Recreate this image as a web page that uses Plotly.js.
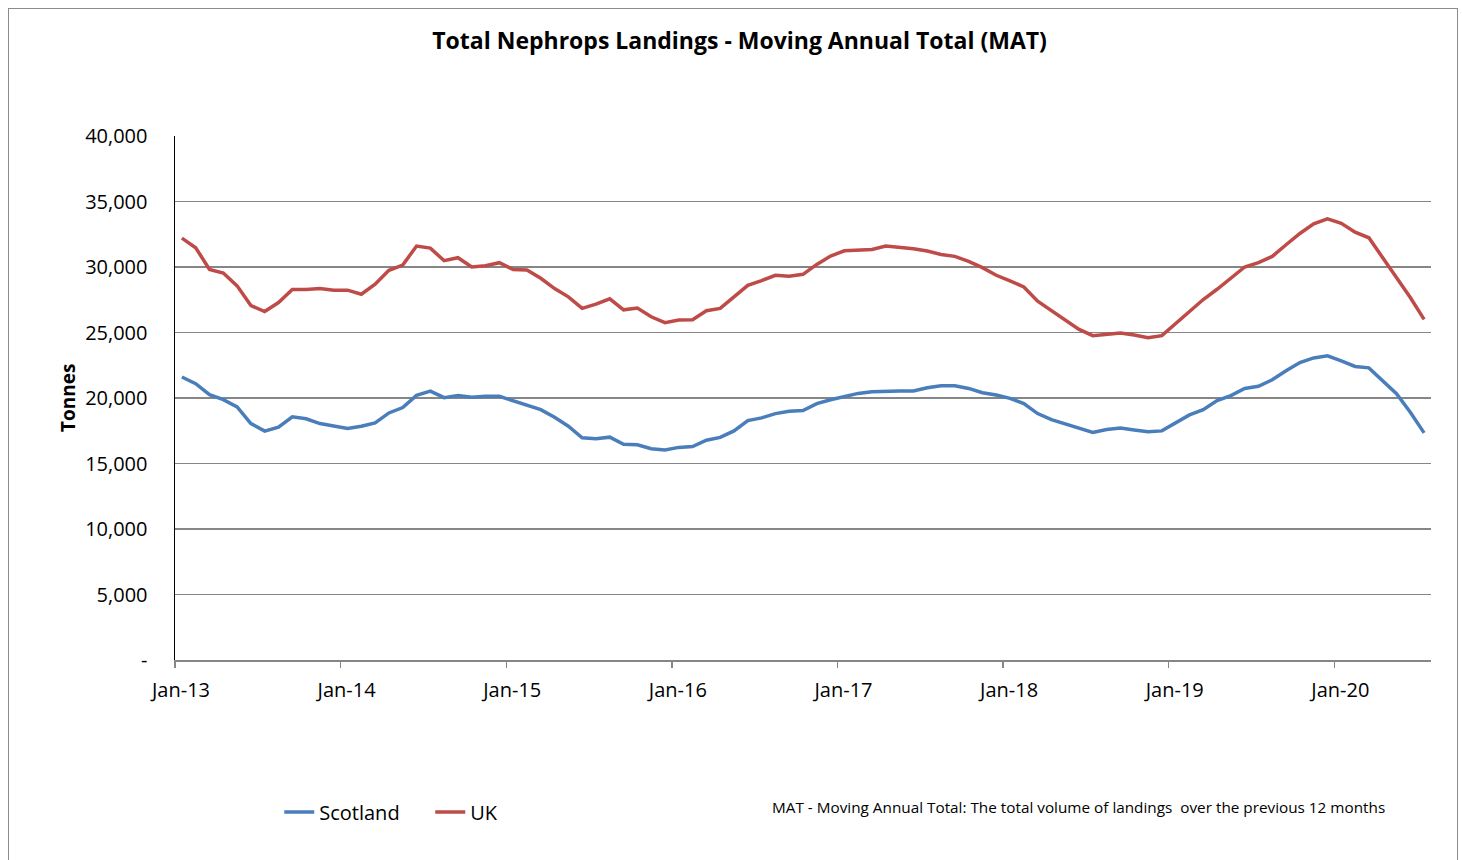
<!DOCTYPE html>
<html>
<head>
<meta charset="utf-8">
<script src="https://cdn.plot.ly/plotly-3.0.1.min.js"></script>
<style>
  html, body { margin: 0; padding: 0; background: #ffffff; }
  #wrap { position: relative; width: 1462px; height: 860px; overflow: hidden; }
  #chart { position: absolute; left: 0; top: 0; width: 1462px; height: 860px; }
  #frame { position: absolute; left: 8px; top: 8px; width: 1450px; height: 900px;
           border: 1.5px solid #8c8c8c; pointer-events: none; box-sizing: border-box; }
</style>
</head>
<body>
<div id="wrap">
  <div id="chart"></div>
  <div id="frame"></div>
</div>
<script>
// Monthly periods Jan-13 .. Jul-20 (91 months)
const monthIndex = Array.from({length: 91}, (_, i) => i);

const scotland = [
  21600, 21090, 20250, 19870, 19320, 18050, 17470, 17770, 18560, 18410, 18050, 17850,
  17670, 17850, 18100, 18860, 19270, 20200, 20530, 20030, 20180, 20050, 20140, 20130,
  19800, 19440, 19110, 18530, 17850, 16960, 16890, 17010, 16460, 16430, 16130, 16030,
  16230, 16300, 16780, 16990, 17490, 18280, 18480, 18810, 18990, 19040, 19570, 19870,
  20130, 20350, 20480, 20530, 20530, 20530, 20780, 20940, 20940, 20730, 20400, 20230,
  19970, 19570, 18810, 18350, 18000, 17650, 17370, 17600, 17700, 17550, 17420, 17490,
  18100, 18710, 19110, 19800, 20180, 20730, 20890, 21390, 22080, 22710, 23060, 23220,
  22840, 22410, 22300, 21290, 20330, 18910, 17340
];

const uk = [
  32200, 31470, 29820, 29540, 28560, 27060, 26600, 27290, 28280, 28280, 28350, 28230,
  28230, 27920, 28680, 29750, 30150, 31600, 31440, 30480, 30710, 30000, 30090, 30330,
  29800, 29770, 29140, 28350, 27720, 26840, 27160, 27570, 26730, 26860, 26200, 25750,
  25950, 25980, 26660, 26840, 27720, 28600, 28960, 29370, 29290, 29440, 30200, 30840,
  31240, 31290, 31340, 31600, 31520, 31390, 31220, 30960, 30810, 30430, 29950, 29370,
  28940, 28480, 27390, 26660, 25900, 25240, 24760, 24890, 24960, 24810, 24610, 24760,
  25700, 26660, 27520, 28300, 29110, 30000, 30330, 30810, 31700, 32560, 33290, 33670,
  33340, 32660, 32230, 30710, 29240, 27670, 26000
];

// Year boundary ticks (start of each January category)
const xTickVals = [-0.5, 11.5, 23.5, 35.5, 47.5, 59.5, 71.5, 83.5];
const xTickText = ["Jan-13", "Jan-14", "Jan-15", "Jan-16", "Jan-17", "Jan-18", "Jan-19", "Jan-20"];

const yTickVals = [0, 5000, 10000, 15000, 20000, 25000, 30000, 35000, 40000];
const yTickText = ["-", "5,000", "10,000", "15,000", "20,000", "25,000", "30,000", "35,000", "40,000"];

const FONT = "Open Sans, Lato, sans-serif";

const traces = [
  { x: monthIndex, y: scotland, name: "Scotland", type: "scatter", mode: "lines",
    line: { color: "#4A7EBB", width: 3.5 } },
  { x: monthIndex, y: uk, name: "UK", type: "scatter", mode: "lines",
    line: { color: "#BE4B48", width: 3.5 } }
];

const layout = {
  width: 1462, height: 860,
  margin: { l: 175, r: 31, t: 136, b: 200 },
  paper_bgcolor: "#ffffff", plot_bgcolor: "#ffffff",
  font: { family: FONT, color: "#000000", size: 20 },
  title: { text: "<b>Total Nephrops Landings - Moving Annual Total (MAT)</b>",
           font: { family: FONT, size: 23, color: "#000000" },
           xref: "paper", x: 0.4495, xanchor: "center",
           yref: "container", y: 1 - 41 / 860, yanchor: "middle" },
  xaxis: {
    range: [-0.5, 90.5], tickmode: "array", tickvals: xTickVals, ticktext: xTickText,
    ticks: "outside", ticklen: 6, tickwidth: 1.3, tickcolor: "#868686",
    ticklabelshift: 6, ticklabelstandoff: 5,
    showline: true, linecolor: "#868686", linewidth: 1.5,
    showgrid: false, zeroline: false, fixedrange: true,
    tickfont: { family: FONT, size: 20, color: "#000000" }
  },
  yaxis: {
    range: [0, 40000], tickmode: "array", tickvals: yTickVals, ticktext: yTickText,
    ticks: "", ticklabelstandoff: 22,
    showline: true, linecolor: "#000000", linewidth: 1.5,
    showgrid: true, gridcolor: "#868686", gridwidth: 1.5,
    zeroline: false, fixedrange: true,
    tickfont: { family: FONT, size: 20, color: "#000000" }
  },
  showlegend: true,
  legend: { orientation: "h", x: 0.083, xanchor: "left", y: -0.29, yanchor: "middle",
            entrywidth: 106,
            font: { family: FONT, size: 20, color: "#000000" },
            bgcolor: "rgba(0,0,0,0)", traceorder: "normal" },
  annotations: [
    { text: "<b>Tonnes</b>", xref: "paper", yref: "paper", x: (68 - 175) / 1256, y: 0.5,
      textangle: -90, showarrow: false, xanchor: "center", yanchor: "middle",
      font: { family: FONT, size: 19, color: "#000000" } },
    { text: "MAT - Moving Annual Total: The total volume of landings  over the previous 12 months",
      xref: "paper", yref: "paper", x: (770 - 175) / 1256, y: (660 - 807) / 524,
      xanchor: "left", yanchor: "middle", showarrow: false,
      font: { family: FONT, size: 15.3, color: "#000000" } }
  ]
};

Plotly.newPlot("chart", traces, layout, { displayModeBar: false, staticPlot: true });
</script>
</body>
</html>
